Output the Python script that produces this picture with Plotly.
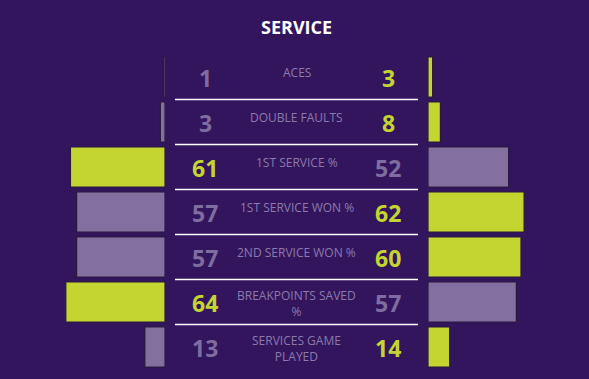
import plotly.graph_objects as go

# ---- data ----
stats = ["ACES", "DOUBLE FAULTS", "1ST SERVICE %", "1ST SERVICE WON %",
         "2ND SERVICE WON %", "BREAKPOINTS SAVED<br>%", "SERVICES GAME<br>PLAYED"]
left_values = [1, 3, 61, 57, 57, 64, 13]
right_values = [3, 8, 52, 62, 60, 57, 14]
title_text = "SERVICE"

# ---- style ----
BG = "#33155e"
LIME = "#c4d531"
LAV = "#8470a0"
LABEL_C = "#8b7aac"
LOSER_NUM = "#7f6ca0"
EDGE = "#2a1a3c"
FONT = "Open Sans"
W, H = 589, 379
PX_PER_UNIT = 1.55
LEFT_EDGE = 165
RIGHT_EDGE = 428
ROW0, PITCH = 77, 45

n = len(stats)
idx = list(range(n))

def win_colors(a, b):
    return [LIME if x > y else LAV for x, y in zip(a, b)]

left_cols = win_colors(left_values, right_values)
right_cols = win_colors(right_values, left_values)

fig = go.Figure()
fig.add_trace(go.Bar(y=idx, x=left_values, orientation="h", xaxis="x", yaxis="y",
                     marker=dict(color=left_cols, line=dict(color=EDGE, width=1.2)),
                     width=40 / PITCH, hoverinfo="skip", showlegend=False))
fig.add_trace(go.Bar(y=idx, x=right_values, orientation="h", xaxis="x2", yaxis="y2",
                     marker=dict(color=right_cols, line=dict(color=EDGE, width=1.2)),
                     width=40 / PITCH, hoverinfo="skip", showlegend=False))

y_top = -ROW0 / PITCH
y_bot = (H - ROW0) / PITCH
yr = [y_bot, y_top]

annotations = [dict(text="<b>%s</b>" % title_text, xref="paper", yref="paper",
                    x=296.5 / W, y=1 - 27.5 / H, showarrow=False,
                    font=dict(family=FONT, size=18, color="white"),
                    xanchor="center", yanchor="middle")]

for i in idx:
    lc = left_cols[i]
    rc = right_cols[i]
    annotations.append(dict(text="<b>%d</b>" % left_values[i], xref="paper", yref="y",
                            x=205 / W, y=i + 0.03, showarrow=False,
                            font=dict(family=FONT, size=23, color=LIME if lc == LIME else LOSER_NUM),
                            xanchor="center", yanchor="middle"))
    annotations.append(dict(text="<b>%d</b>" % right_values[i], xref="paper", yref="y",
                            x=388 / W, y=i + 0.03, showarrow=False,
                            font=dict(family=FONT, size=23, color=LIME if rc == LIME else LOSER_NUM),
                            xanchor="center", yanchor="middle"))
    two_line = "<br>" in stats[i]
    annotations.append(dict(text=stats[i], xref="paper", yref="y",
                            x=296.5 / W, y=i + (1.5 / PITCH if two_line else -0.1),
                            showarrow=False, align="center",
                            font=dict(family=FONT, size=12, color=LABEL_C),
                            xanchor="center", yanchor="middle"))

shapes = []
for i in idx[:-1]:
    shapes.append(dict(type="line", xref="paper", yref="y",
                       x0=175 / W, x1=418 / W, y0=i + 0.5, y1=i + 0.5,
                       line=dict(color="white", width=1.5)))

fig.update_layout(
    width=W, height=H,
    margin=dict(l=0, r=0, t=0, b=0),
    paper_bgcolor=BG, plot_bgcolor=BG,
    barmode="overlay",
    xaxis=dict(domain=[0, LEFT_EDGE / W], range=[LEFT_EDGE / PX_PER_UNIT, 0],
               visible=False, fixedrange=True),
    xaxis2=dict(domain=[RIGHT_EDGE / W, 1], range=[0, (W - RIGHT_EDGE) / PX_PER_UNIT],
                visible=False, fixedrange=True),
    yaxis=dict(range=yr, visible=False, fixedrange=True),
    yaxis2=dict(range=yr, visible=False, fixedrange=True, anchor="x2", matches="y"),
    annotations=annotations,
    shapes=shapes,
)

fig.write_html("out.html", config={"displayModeBar": False},
               post_script="document.body.style.margin='0';document.body.style.overflow='hidden';document.body.style.background='%s';" % BG)
